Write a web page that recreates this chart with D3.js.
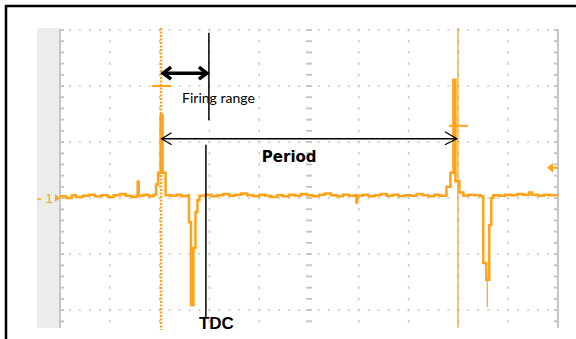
<!DOCTYPE html>
<html>
<head>
<meta charset="utf-8">
<script src="https://cdn.jsdelivr.net/npm/d3@7"></script>
<style>
  html, body { margin: 0; padding: 0; background: #fff; }
  svg { display: block; }
</style>
</head>
<body>
<div id="chart"></div>
<script>
// scope capture: time in 1/10 division, voltage in divisions (0 = channel ground)
const traceTime = [0, 1.2, 2.4, 3.2, 4.6, 5.8, 7.0, 8.4, 9.6, 10.8, 12.0, 13.2, 14.4, 15.4, 15.6, 15.8,
  16.8, 17.8, 18.8, 19.3, 19.7, 20.2, 20.6, 21.2, 22.2, 23.4, 24.4, 25.6, 25.9, 26.3, 26.8, 27.2,
  27.6, 28.0, 29.2, 30.4, 31.6, 32.8, 34.0, 35.2, 36.4, 37.6, 38.8, 40.0, 41.2, 42.4, 43.6, 44.8,
  46.0, 47.2, 48.4, 49.6, 50.8, 52.0, 53.2, 54.4, 55.6, 56.8, 58.0, 59.2, 59.5, 59.7, 60.8, 62.0,
  63.2, 64.4, 65.6, 66.8, 68.0, 69.2, 70.4, 71.6, 72.8, 74.0, 75.2, 76.2, 77.6, 78.4, 79.0, 79.4,
  80.2, 81.0, 82.0, 83.2, 84.4, 85.0, 85.6, 86.2, 86.6, 87.0, 88.2, 89.4, 90.6, 91.8, 93.0, 94.2,
  94.8, 96.0, 97.2, 98.4, 100];
const traceVolt = [0.03, 0.0, 0.05, 0.02, 0.04, 0.06, 0.03, 0.05, 0.02, 0.05, 0.07, 0.04, 0.02, 0.05, 0.29, 0.04,
  0.06, 0.03, 0.06, 0.24, 0.45, 1.48, 0.45, 0.05, 0.04, 0.06, 0.03, 0.05, -0.43, -1.91, -0.89, -0.25,
  -0.04, 0.04, 0.06, 0.03, 0.05, 0.07, 0.04, 0.06, 0.08, 0.05, 0.03, 0.06, 0.04, 0.02, 0.05, 0.03,
  0.06, 0.04, 0.07, 0.05, 0.03, 0.06, 0.08, 0.05, 0.03, 0.06, 0.04, 0.05, -0.08, 0.04, 0.06, 0.03,
  0.05, 0.07, 0.04, 0.06, 0.03, 0.05, 0.04, 0.07, 0.05, 0.03, 0.06, 0.04, 0.2, 0.45, 2.11, 0.3,
  0.1, 0.04, 0.06, 0.05, 0.03, -1.16, -1.46, -0.48, 0.0, 0.05, 0.04, 0.06, 0.05, 0.07, 0.06, 0.1,
  0.06, 0.04, 0.06, 0.05, 0.05];

// thin peak tails drawn as single samples
const tailTime = [85.8];
const tailFrom = [-1.46];
const tailTo = [-1.95];

// cursors and their cross marks
const cursorTime = [20.3, 79.9];
const cursorMarkVolt = [2.0, 1.29];
const triggerVolt = 0.54;

// annotations
const firingStart = 20.3, firingEnd = 29.9, firingVolt = 2.23;
const firingLineTop = 2.95, firingLineBottom = 1.39;
const periodStart = 20.4, periodEnd = 79.7, periodVolt = 1.06;
const tdcTime = 29.3, tdcTop = 0.95, tdcBottom = -2.14;

const gridTime = d3.range(10, 100, 10);
const gridVolt = [3, 2, 1, 0, -1, -2];

const width = 576, height = 339;
const orange = '#ffa31a';

const svg = d3.select('#chart').append('svg')
  .attr('width', width)
  .attr('height', height);

const x = d3.scaleLinear().domain([0, 100]).range([60, 558]);
const y = d3.scaleLinear().domain([-2.32, 3]).range([328, 30]);

// outer frame
svg.append('path')
  .attr('d', `M6,${height} V6 H${width}`)
  .attr('fill', 'none')
  .attr('stroke', '#000')
  .attr('stroke-width', 2.5);

// grey channel strip at the left
svg.append('rect')
  .attr('x', 37).attr('y', y(3) - 2)
  .attr('width', x(0) - 37).attr('height', y(-2.32) - y(3) + 2)
  .attr('fill', '#ececec');

const grid = svg.append('g').attr('fill', '#c6c6c6');

// horizontal dotted lines
gridVolt.forEach((v) => {
  d3.range(0, 100.01, 2).forEach((t) => {
    grid.append('rect')
      .attr('x', x(t) - 1).attr('y', y(v) - 0.75)
      .attr('width', 2).attr('height', 1.5);
  });
});

const minorVolt = d3.range(-2.2, 3.01, 0.2);

// vertical dotted lines, centre axis gets dashes
gridTime.forEach((t) => {
  const centre = t === 50;
  minorVolt.forEach((v) => {
    grid.append('rect')
      .attr('x', centre ? x(t) - 3 : x(t) - 0.75)
      .attr('y', centre ? y(v) - 1 : y(v) - 1.25)
      .attr('width', centre ? 6 : 1.5)
      .attr('height', centre ? 2 : 2.5);
  });
});

// left and right edges with ticks
[0, 100].forEach((t) => {
  grid.append('rect')
    .attr('x', x(t) - 1).attr('y', y(3) - 1)
    .attr('width', 2).attr('height', y(-2.32) - y(3) + 1);
  const dir = t === 0 ? 1 : -1;
  minorVolt.forEach((v) => {
    grid.append('rect')
      .attr('x', dir > 0 ? x(t) : x(t) - 4)
      .attr('y', y(v) - 1)
      .attr('width', 4).attr('height', 2);
  });
});

// cursors
svg.append('line')
  .attr('x1', x(cursorTime[0])).attr('x2', x(cursorTime[0]))
  .attr('y1', y(3) - 2).attr('y2', y(-2.32) + 2)
  .attr('stroke', orange)
  .attr('stroke-width', 2.5)
  .attr('stroke-dasharray', '2,1.5');
svg.append('line')
  .attr('x1', x(cursorTime[1])).attr('x2', x(cursorTime[1]))
  .attr('y1', y(3) - 2).attr('y2', y(-2.32))
  .attr('stroke', orange)
  .attr('stroke-opacity', 0.85)
  .attr('stroke-width', 1.5);
cursorTime.forEach((t, i) => {
  svg.append('line')
    .attr('x1', x(t) - 9).attr('x2', x(t) + 10)
    .attr('y1', y(cursorMarkVolt[i])).attr('y2', y(cursorMarkVolt[i]))
    .attr('stroke', orange)
    .attr('stroke-width', 2);
});

// trace
const line = d3.line()
  .x((d) => x(d[0]))
  .y((d) => y(d[1]))
  .curve(d3.curveStepAfter);

svg.append('path')
  .datum(d3.zip(traceTime, traceVolt))
  .attr('d', line)
  .attr('fill', 'none')
  .attr('stroke', orange)
  .attr('stroke-width', 2.5);

tailTime.forEach((t, i) => {
  svg.append('line')
    .attr('x1', x(t)).attr('x2', x(t))
    .attr('y1', y(tailFrom[i])).attr('y2', y(tailTo[i]))
    .attr('stroke', orange)
    .attr('stroke-width', 1.2);
});

// ground marker "1"
const gy = y(0);
svg.append('line')
  .attr('x1', 37).attr('x2', 41)
  .attr('y1', gy + 1).attr('y2', gy + 1)
  .attr('stroke', orange).attr('stroke-width', 1.5);
svg.append('text')
  .attr('x', 49).attr('y', gy + 5)
  .attr('text-anchor', 'middle')
  .attr('font-family', 'Liberation Sans, Arial, sans-serif')
  .attr('font-size', 13)
  .attr('fill', orange)
  .text('1');
svg.append('path')
  .attr('d', `M${x(0) - 5},${gy - 4} L${x(0)},${gy} L${x(0) - 5},${gy + 4} Z`)
  .attr('fill', orange);

// trigger level marker at the right
const ty = y(triggerVolt);
svg.append('path')
  .attr('d', `M${x(100) - 11},${ty} L${x(100) - 5},${ty - 5} L${x(100) - 5},${ty + 5} Z`)
  .attr('fill', orange);
svg.append('line')
  .attr('x1', x(100) - 6).attr('x2', x(100))
  .attr('y1', ty).attr('y2', ty)
  .attr('stroke', orange).attr('stroke-width', 2);

// annotations
const ann = svg.append('g').attr('stroke', '#000').attr('fill', 'none');

ann.append('line')
  .attr('x1', x(firingEnd)).attr('x2', x(firingEnd))
  .attr('y1', y(firingLineTop)).attr('y2', y(firingLineBottom))
  .attr('stroke-width', 1.5);

const fy = y(firingVolt);
const fx1 = x(firingStart) + 1, fx2 = x(firingEnd) - 1;
ann.append('line')
  .attr('x1', fx1 + 2).attr('x2', fx2 - 2)
  .attr('y1', fy).attr('y2', fy)
  .attr('stroke-width', 3.5);
ann.append('path')
  .attr('d', `M${fx1 + 9},${fy - 6} L${fx1 + 1},${fy} L${fx1 + 9},${fy + 6}`)
  .attr('stroke-width', 3.5)
  .attr('stroke-linejoin', 'miter');
ann.append('path')
  .attr('d', `M${fx2 - 9},${fy - 6} L${fx2 - 1},${fy} L${fx2 - 9},${fy + 6}`)
  .attr('stroke-width', 3.5)
  .attr('stroke-linejoin', 'miter');

const py = y(periodVolt);
const px1 = x(periodStart), px2 = x(periodEnd);
ann.append('line')
  .attr('x1', px1).attr('x2', px2)
  .attr('y1', py).attr('y2', py)
  .attr('stroke-width', 1.5);
ann.append('path')
  .attr('d', `M${px1 + 10},${py - 6} L${px1},${py} L${px1 + 10},${py + 6}`)
  .attr('stroke-width', 1.2);
ann.append('path')
  .attr('d', `M${px2 - 12},${py - 7} L${px2},${py} L${px2 - 12},${py + 6}`)
  .attr('stroke-width', 1.2);

ann.append('line')
  .attr('x1', x(tdcTime)).attr('x2', x(tdcTime))
  .attr('y1', y(tdcTop)).attr('y2', y(tdcBottom))
  .attr('stroke-width', 1.5);

svg.append('text')
  .attr('x', x(firingStart) + 21).attr('y', fy + 30)
  .attr('font-family', 'Lato, sans-serif')
  .attr('font-size', 14)
  .attr('fill', '#000')
  .text('Firing range');

svg.append('text')
  .attr('x', (px1 + px2) / 2 - 20).attr('y', py + 23)
  .attr('text-anchor', 'middle')
  .attr('font-family', 'DejaVu Sans, sans-serif')
  .attr('font-weight', 'bold')
  .attr('font-size', 15)
  .attr('fill', '#000')
  .text('Period');

svg.append('text')
  .attr('x', x(tdcTime) - 7).attr('y', y(tdcBottom) + 11)
  .attr('font-family', 'Liberation Sans, Arial, sans-serif')
  .attr('font-weight', 'bold')
  .attr('font-size', 17)
  .attr('fill', '#000')
  .text('TDC');
</script>
</body>
</html>
